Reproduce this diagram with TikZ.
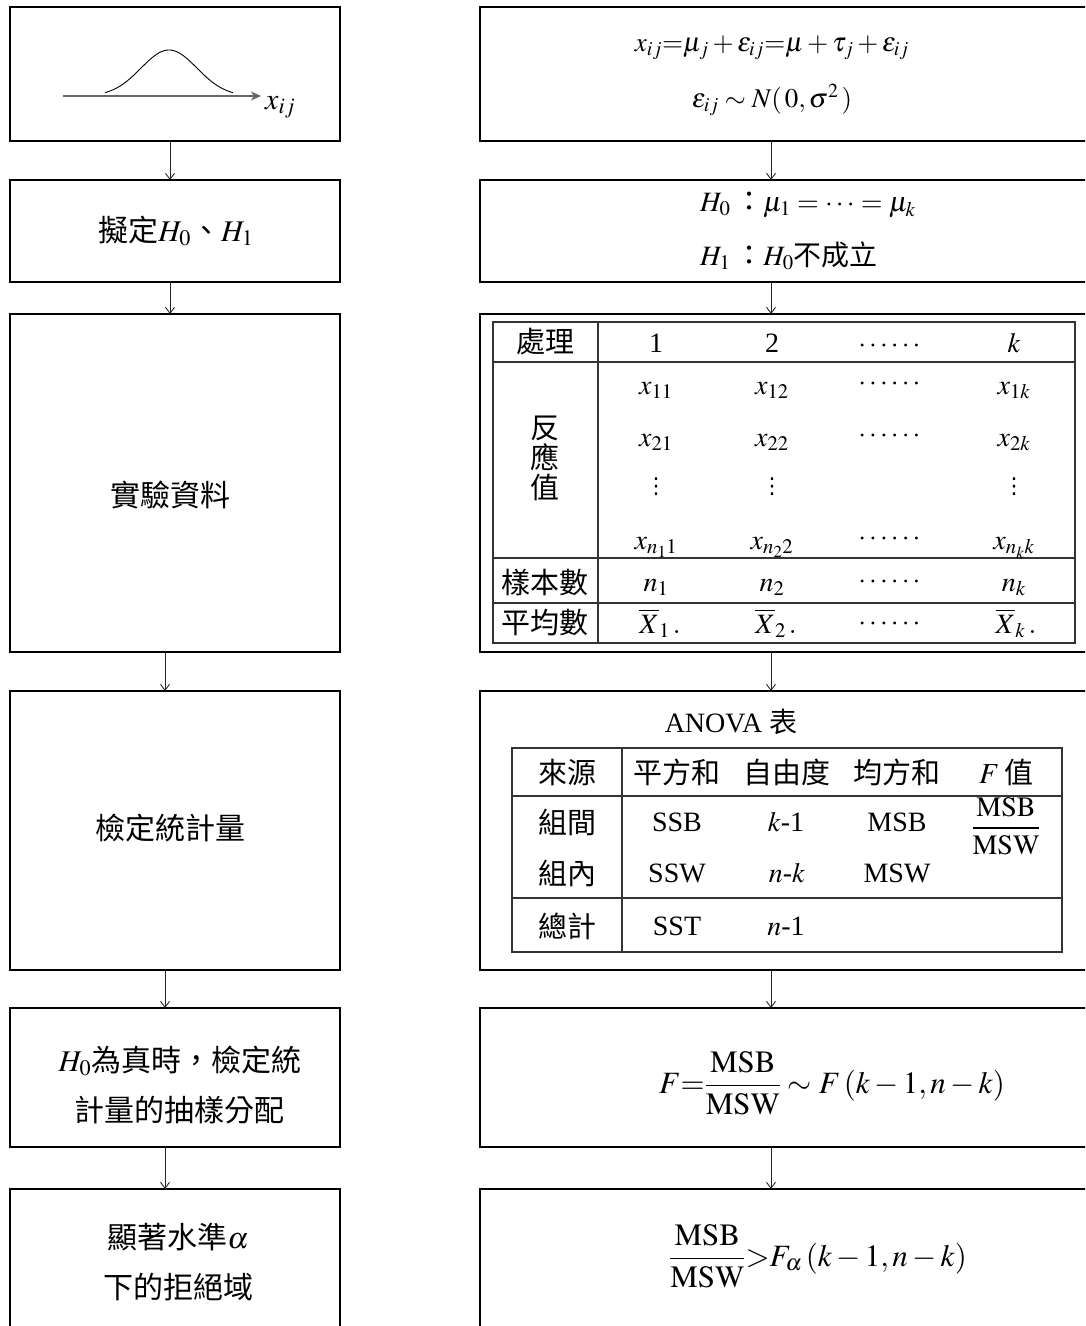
\documentclass[tikz,border=0pt]{standalone}
\usepackage{amsmath}
\usepackage{mathptmx}
\usepackage{fontspec}
\setmainfont{Liberation Serif}
\newfontfamily\cjk{Noto Sans CJK TC}
\newfontfamily\dvs{DejaVu Sans}
\usetikzlibrary{arrows.meta,calc}
\newcommand\fsz[1]{\fontsize{#1}{#1}\selectfont}
\begin{document}
\begin{tikzpicture}[x=1pt,y=-1pt,
  box/.style={draw=black, line width=1.2pt, inner sep=0pt, outer sep=0pt, anchor=north west},
  txt/.style={font=\fsz{28}, inner sep=0pt},
  ctxt/.style={font=\fsz{29}\cjk, inner sep=0pt},
  big/.style={font=\fsz{31}, inner sep=0pt},
  two/.style={font=\fontsize{30}{50}\selectfont\cjk, align=center, inner sep=0pt},
  vd/.style={font=\fsz{22}\dvs, inner sep=0pt},
  arr/.style={line width=0.9pt, draw=black!85, -{Straight Barb[length=6pt,width=9pt]}},
  tline/.style={line width=1.1pt, draw=black!80}]
\useasboundingbox (0,0) rectangle (1085,1326);
\clip (0,0) rectangle (1085,1326);

% ---------------- boxes ----------------
\node[box, minimum width=330pt, minimum height=134pt] (L1) at (10,7) {};
\node[box, minimum width=330pt, minimum height=102pt] (L2) at (10,180) {};
\node[box, minimum width=330pt, minimum height=338pt] (L3) at (10,314) {};
\node[box, minimum width=330pt, minimum height=279pt] (L4) at (10,691) {};
\node[box, minimum width=330pt, minimum height=139pt] (L5) at (10,1008) {};
\node[box, minimum width=330pt, minimum height=160pt] (L6) at (10,1189) {};
\node[box, minimum width=620pt, minimum height=134pt] (R1) at (480,7) {};
\node[box, minimum width=620pt, minimum height=102pt] (R2) at (480,180) {};
\node[box, minimum width=620pt, minimum height=338pt] (R3) at (480,314) {};
\node[box, minimum width=620pt, minimum height=279pt] (R4) at (480,691) {};
\node[box, minimum width=620pt, minimum height=139pt] (R5) at (480,1008) {};
\node[box, minimum width=620pt, minimum height=160pt] (R6) at (480,1189) {};

% ---------------- arrows ----------------
\coordinate (lcA) at (170,0);
\coordinate (lcB) at (165,0);
\coordinate (rc) at (771,0);
\draw[arr] (L1.south -| lcA) -- (L2.north -| lcA);
\draw[arr] (L2.south -| lcA) -- (L3.north -| lcA);
\draw[arr] (L3.south -| lcB) -- (L4.north -| lcB);
\draw[arr] (L4.south -| lcB) -- (L5.north -| lcB);
\draw[arr] (L5.south -| lcB) -- (L6.north -| lcB);
\draw[arr] (R1.south -| rc) -- (R2.north -| rc);
\draw[arr] (R2.south -| rc) -- (R3.north -| rc);
\draw[arr] (R3.south -| rc) -- (R4.north -| rc);
\draw[arr] (R4.south -| rc) -- (R5.north -| rc);
\draw[arr] (R5.south -| rc) -- (R6.north -| rc);

% ---------------- left column ----------------
\coordinate (ax1) at (63,96);
\coordinate (ax2) at (261,96);
\draw[line width=1.3pt, draw=black!60, -{Stealth[length=10pt,width=9pt,inset=3pt]}] (ax1) -- (ax2);
\draw[line width=0.9pt, domain=105:233, samples=80, smooth] plot (\x, {96 - 46*exp(-((\x-169)/28)^2/2)});
\node[font=\fsz{30}, inner sep=0pt, anchor=base west] (xij) at (265,109) {$x_{ij}$};

\node[font=\fsz{30}\cjk, inner sep=0pt] (l2t) at (176,231) {擬定$H_0$、$H_1$};
\node[font=\fsz{30}\cjk, inner sep=0pt] (l3t) at (170,495) {實驗資料};
\node[font=\fsz{30}\cjk, inner sep=0pt] (l4t) at (170,828) {檢定統計量};
\node[two] (l5t) at (180,1085) {$H_0$為真時，檢定統\\計量的抽樣分配};
\node[two] (l6t) at (178,1262) {顯著水準$\alpha$\\下的拒絕域};

% ---------------- right column ----------------
\node[font=\fsz{27}, inner sep=0pt] (r1a) at (772,48) {$x_{ij}{=}\mu_j+\varepsilon_{ij}{=}\mu+\tau_j+\varepsilon_{ij}$};
\node[font=\fsz{27}, inner sep=0pt] (r1b) at (772,100) {$\varepsilon_{ij}\sim N(\,0,\sigma^2\,)$};
\node[txt, anchor=west] (r2a) at (700,205) {$H_0$\,{\cjk ：}$\mu_1=\cdots=\mu_k$};
\node[txt, anchor=west] (r2b) at (700,256) {$H_1$\,{\cjk ：}$H_0${\cjk 不成立}};

% table 1
\draw[tline] (493,322) rectangle (1075,643);
\draw[tline] (598,322) -- (598,643);
\draw[tline] (493,362) -- (1075,362);
\draw[tline] (493,558) -- (1075,558);
\draw[tline] (493,603) -- (1075,603);
\node[ctxt] (t1h) at (545,342) {處理};
\node[txt, anchor=base] (t1h1) at (656,352) {1};
\node[txt, anchor=base] (t1h2) at (772,352) {2};
\node[txt, anchor=base] (t1h3) at (891,352) {$\cdots\cdots$};
\node[txt, anchor=base] (t1h4) at (1014,352) {$k$};
\node[font=\fontsize{29}{30}\selectfont\cjk, align=center, inner sep=0pt] (t1r) at (545,458) {反\\應\\值};
\node[txt, anchor=base] (a11) at (656,394) {$x_{11}$};
\node[txt, anchor=base] (a12) at (772,394) {$x_{12}$};
\node[txt, anchor=base] (a13) at (891,390) {$\cdots\cdots$};
\node[txt, anchor=base] (a14) at (1014,394) {$x_{1k}$};
\node[txt, anchor=base] (a21) at (656,446) {$x_{21}$};
\node[txt, anchor=base] (a22) at (772,446) {$x_{22}$};
\node[txt, anchor=base] (a23) at (891,442) {$\cdots\cdots$};
\node[txt, anchor=base] (a24) at (1014,446) {$x_{2k}$};
\node[vd] (a31) at (656,487) {⋮};
\node[vd] (a32) at (772,487) {⋮};
\node[vd] (a34) at (1014,487) {⋮};
\node[txt, anchor=base] (a41) at (656,549) {$x_{n_1 1}$};
\node[txt, anchor=base] (a42) at (772,549) {$x_{n_2 2}$};
\node[txt, anchor=base] (a43) at (891,545) {$\cdots\cdots$};
\node[txt, anchor=base] (a44) at (1014,549) {$x_{n_k k}$};
\node[ctxt] (t1n) at (545,582) {樣本數};
\node[txt, anchor=base] (n1) at (656,591) {$n_1$};
\node[txt, anchor=base] (n2) at (772,591) {$n_2$};
\node[txt, anchor=base] (n3) at (891,588) {$\cdots\cdots$};
\node[txt, anchor=base] (n4) at (1014,591) {$n_k$};
\node[ctxt] (t1m) at (545,623) {平均數};
\node[txt, anchor=base] (m1) at (660,633) {$\overline{X}_1\,.$};
\node[txt, anchor=base] (m2) at (776,633) {$\overline{X}_2\,.$};
\node[txt, anchor=base] (m3) at (891,630) {$\cdots\cdots$};
\node[txt, anchor=base] (m4) at (1016,633) {$\overline{X}_k\,.$};

% ANOVA table
\node[txt] (anv) at (731,722) {ANOVA {\cjk 表}};
\draw[tline] (512,748) rectangle (1062,952);
\draw[tline] (622,748) -- (622,952);
\draw[tline] (512,796) -- (1062,796);
\draw[tline] (512,898) -- (1062,898);
\node[ctxt] (h1) at (567,772) {來源};
\node[ctxt] (h2) at (677,772) {平方和};
\node[ctxt] (h3) at (787,772) {自由度};
\node[ctxt] (h4) at (897,772) {均方和};
\node[ctxt] (h5) at (1006,772) {$F$\,值};
\node[ctxt] (g1) at (567,822) {組間};
\node[txt] (g2) at (677,822) {SSB};
\node[txt] (g3) at (786,822) {$k$-1};
\node[txt] (g4) at (897,822) {MSB};
\node[txt] (g5) at (1006,826) {$\dfrac{\mathrm{MSB}}{\mathrm{MSW}}$};
\node[ctxt] (w1) at (567,873) {組內};
\node[txt] (w2) at (677,873) {SSW};
\node[txt] (w3) at (787,873) {$n$-$k$};
\node[txt] (w4) at (897,873) {MSW};
\node[ctxt] (s1) at (567,926) {總計};
\node[txt] (s2) at (677,926) {SST};
\node[txt] (s3) at (786,926) {$n$-1};

% bottom formulas
\node[big] (r5) at (832,1083) {$F{=}\dfrac{\mathrm{MSB}}{\mathrm{MSW}}\sim F\,(k-1,n-k)$};
\node[big] (r6) at (818,1256) {$\dfrac{\mathrm{MSB}}{\mathrm{MSW}}{>}F_\alpha\,(k-1,n-k)$};
\end{tikzpicture}
\end{document}
